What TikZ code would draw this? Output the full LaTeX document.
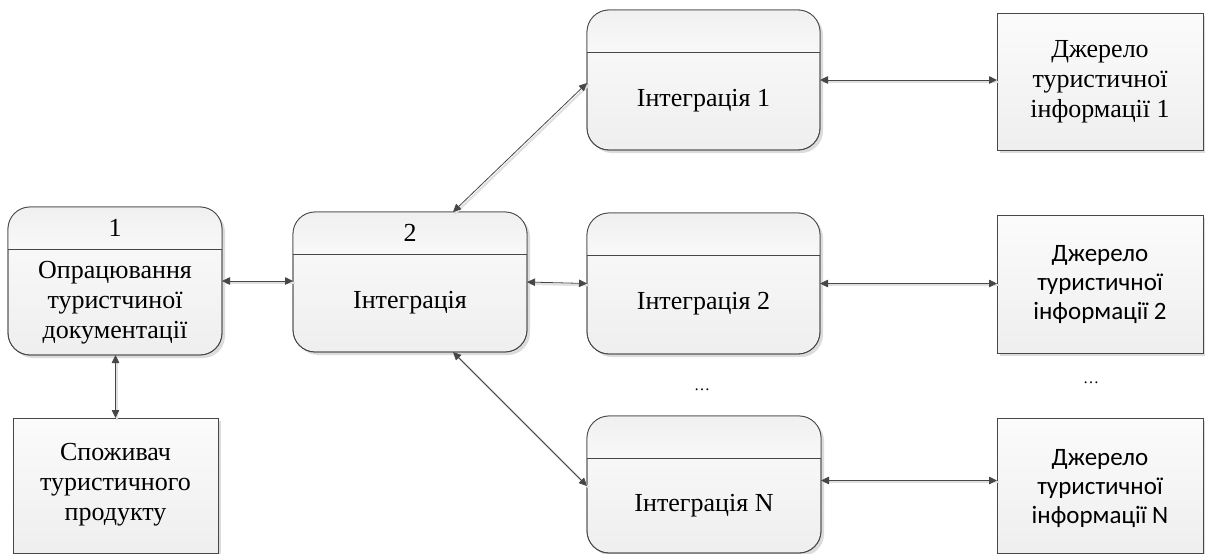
\documentclass[tikz,border=0pt]{standalone}
\usepackage{fontspec}
\setmainfont{Liberation Serif}
\newfontfamily\calib{Carlito}
\usetikzlibrary{arrows.meta,shadows,calc}

\tikzset{
  boxline/.style={draw=black!72, line width=0.8pt},
  boxshadow/.style={drop shadow={shadow xshift=3pt, shadow yshift=-3pt, fill=black!25, opacity=0.55}},
  proc/.style={boxline, rounded corners=22pt, inner sep=0pt, outer sep=0pt,
    top color=gray!3, bottom color=gray!13, boxshadow},
  src/.style={boxline, inner sep=0pt, outer sep=0pt,
    top color=gray!3, bottom color=gray!13, boxshadow},
  txt/.style={font=\fontsize{26}{30}\selectfont, align=center, inner sep=0pt},
  ctxt/.style={font=\calib\fontsize{25}{29}\selectfont, align=center, inner sep=0pt},
  dots/.style={font=\fontsize{16}{18}\selectfont, inner sep=0pt},
  link/.style={draw=black!72, line width=0.8pt,
    {Triangle[length=8pt,width=7.5pt]}-{Triangle[length=8pt,width=7.5pt]},
    preaction={draw=black!12, line width=2.2pt, arrows=-,
      transform canvas={xshift=1.8pt,yshift=-1.8pt}}}
}

% header band of a rounded process box
\newcommand\hdrband[1]{%
  \begin{scope}
    \clip[rounded corners=22pt] (#1.north west) rectangle (#1.south east);
    \shade[top color=gray!12, bottom color=gray!5]
      (#1.north west) rectangle ([yshift=-42pt]#1.north east);
  \end{scope}
  \draw[boxline, rounded corners=22pt] (#1.north west) rectangle (#1.south east);
  \draw[boxline] ([yshift=-42pt]#1.north west) -- ([yshift=-42pt]#1.north east);}

\begin{document}
\begin{tikzpicture}[x=1pt, y=-1pt]
\useasboundingbox (0,0) rectangle (1205,554);

% process boxes
\node[proc, minimum width=214pt, minimum height=148pt] (b1) at (115,281) {};
\node[proc, minimum width=234pt, minimum height=140pt] (b2) at (410,282) {};
\node[proc, minimum width=233pt, minimum height=140pt] (i1) at (703.5,80) {};
\node[proc, minimum width=233pt, minimum height=141pt] (i2) at (703.5,283.5) {};
\node[proc, minimum width=234pt, minimum height=137pt] (iN) at (704,484.5) {};
\hdrband{b1}\hdrband{b2}\hdrband{i1}\hdrband{i2}\hdrband{iN}

% external entities
\node[src, minimum width=205pt, minimum height=135pt] (cons) at (115.5,485.5) {};
\node[src, minimum width=206pt, minimum height=137pt] (s1) at (1100,81.5) {};
\node[src, minimum width=206pt, minimum height=138pt] (s2) at (1100,284) {};
\node[src, minimum width=206pt, minimum height=135pt] (sN) at (1100,485.5) {};

% labels
\node[txt] (b1h) at (115,228) {1};
\node[txt] (b1t) at (115,303) {Опрацювання\\туристчиної\\документації};
\node[txt] (b2h) at (410,233) {2};
\node[txt] (b2t) at (410,303) {Інтеграція};
\node[txt] (i1t) at (703.5,101) {Інтеграція 1};
\node[txt] (i2t) at (703.5,304) {Інтеграція 2};
\node[txt] (iNt) at (704,506) {Інтеграція N};
\node[txt] (const) at (115.5,485) {Споживач\\туристичного\\продукту};
\node[txt] (s1t) at (1100,82) {Джерело\\туристичної\\інформації 1};
\node[ctxt] (s2t) at (1100,285) {Джерело\\туристичної\\інформації 2};
\node[ctxt] (sNt) at (1100,489) {Джерело\\туристичної\\інформації N};
\node[dots] (d1) at (702,390) {…};
\node[dots] (d2) at (1091,383) {…};

% connectors
\draw[link] (b1.east) -- (b1.east -| b2.west);
\draw[link] (cons.north) -- (cons.north |- b1.south);
\draw[link] ([xshift=160pt]b2.north west) -- ([yshift=-73pt]i1.north west);
\draw[link] (b2.east) -- (i2.west);
\draw[link] ([xshift=160pt]b2.south west) -- ([yshift=-70pt]iN.north west);
\draw[link] (i1.east) -- (i1.east -| s1.west);
\draw[link] (i2.east) -- (i2.east -| s2.west);
\draw[link] ([yshift=4pt]iN.east) -- ([yshift=4pt]iN.east -| sN.west);
\end{tikzpicture}
\end{document}
